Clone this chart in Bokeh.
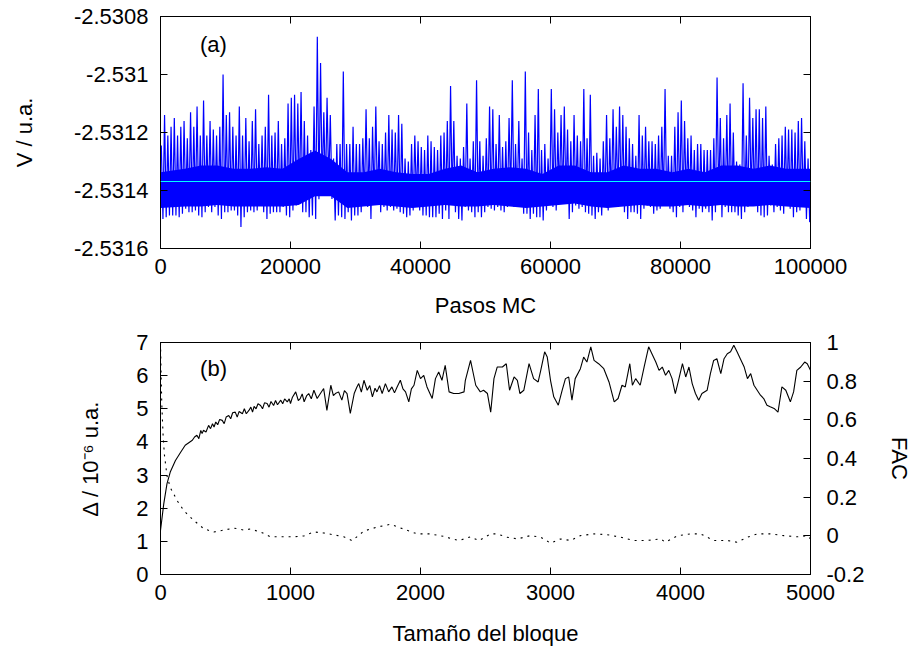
import numpy as np
from bokeh.plotting import figure
from bokeh.models import Range1d, LinearAxis, FixedTicker, Label, Span
from bokeh.layouts import column
from bokeh.embed import file_html
from bokeh.resources import INLINE

FONT = "Liberation Sans"
FS = "22px"

# ---------------- data: panel (a) ----------------
# Monte Carlo trace, read as per-bin peak (hi) and trough (lo) of V, bins of 500 MC steps
bin_width = 500
v_hi = [
    -2.531245, -2.531140, -2.531210, -2.531180, -2.531150, -2.531210, -2.531180, -2.531160, -2.531220, -2.531130,
    -2.531180, -2.531110, -2.531210, -2.531090, -2.531210, -2.531160, -2.531190, -2.531210, -2.531180, -2.531000,
    -2.531140, -2.531130, -2.531180, -2.531210, -2.531110, -2.531210, -2.531150, -2.531230, -2.531160, -2.531120,
    -2.531240, -2.531210, -2.531180, -2.531070, -2.531210, -2.531200, -2.531160, -2.531240, -2.531220, -2.531100,
    -2.531080, -2.531070, -2.531100, -2.531060, -2.531160, -2.531210, -2.531260, -2.531110, -2.530870, -2.530960,
    -2.531130, -2.531080, -2.531140, -2.531290, -2.531240, -2.531240, -2.530990, -2.531240, -2.531240, -2.531180,
    -2.531240, -2.531240, -2.531220, -2.531120, -2.531220, -2.531180, -2.531110, -2.531230, -2.531240, -2.531200,
    -2.531140, -2.531190, -2.531200, -2.531140, -2.531170, -2.531290, -2.531300, -2.531240, -2.531210, -2.531230,
    -2.531250, -2.531260, -2.531210, -2.531230, -2.531250, -2.531260, -2.531210, -2.531200, -2.531160, -2.531040,
    -2.531160, -2.531280, -2.531290, -2.531250, -2.531100, -2.531290, -2.531230, -2.531020, -2.531230, -2.531280,
    -2.531220, -2.531110, -2.531120, -2.531240, -2.531140, -2.531250, -2.531230, -2.531150, -2.531020, -2.531240,
    -2.531160, -2.531290, -2.530990, -2.531200, -2.531260, -2.531140, -2.531050, -2.531260, -2.531240, -2.531290,
    -2.531050, -2.531120, -2.531200, -2.531140, -2.531110, -2.531190, -2.531230, -2.531140, -2.531210, -2.531230,
    -2.531050, -2.531220, -2.531070, -2.531280, -2.531270, -2.531290, -2.531230, -2.531140, -2.531220, -2.531120,
    -2.531180, -2.531110, -2.531140, -2.531180, -2.531220, -2.531240, -2.531280, -2.531140, -2.531210, -2.531180,
    -2.531230, -2.531230, -2.531240, -2.531210, -2.531180, -2.531050, -2.531280, -2.531280, -2.531180, -2.531130,
    -2.531090, -2.531160, -2.531220, -2.531210, -2.531260, -2.531240, -2.531240, -2.531260, -2.531260, -2.531260,
    -2.531220, -2.531010, -2.531150, -2.531220, -2.531140, -2.531100, -2.531200, -2.531300, -2.531310, -2.531030,
    -2.531210, -2.531080, -2.531150, -2.531120, -2.531120, -2.531150, -2.531110, -2.531280, -2.531310, -2.531240,
    -2.531220, -2.531210, -2.531180, -2.531190, -2.531190, -2.531200, -2.531160, -2.531150, -2.531230, -2.531290,
]
v_lo = [
    -2.531498, -2.531492, -2.531486, -2.531486, -2.531486, -2.531492, -2.531480, -2.531463, -2.531475, -2.531475,
    -2.531469, -2.531486, -2.531492, -2.531475, -2.531457, -2.531475, -2.531457, -2.531486, -2.531498, -2.531475,
    -2.531475, -2.531469, -2.531469, -2.531486, -2.531526, -2.531492, -2.531475, -2.531469, -2.531475, -2.531469,
    -2.531452, -2.531475, -2.531498, -2.531480, -2.531475, -2.531475, -2.531475, -2.531457, -2.531486, -2.531492,
    -2.531469, -2.531452, -2.531440, -2.531475, -2.531475, -2.531492, -2.531486, -2.531498, -2.531430, -2.531400,
    -2.531410, -2.531383, -2.531429, -2.531503, -2.531486, -2.531492, -2.531498, -2.531475, -2.531503, -2.531486,
    -2.531486, -2.531475, -2.531434, -2.531457, -2.531498, -2.531440, -2.531440, -2.531475, -2.531457, -2.531469,
    -2.531457, -2.531469, -2.531463, -2.531475, -2.531480, -2.531492, -2.531486, -2.531469, -2.531429, -2.531469,
    -2.531486, -2.531486, -2.531492, -2.531492, -2.531492, -2.531480, -2.531498, -2.531469, -2.531498, -2.531434,
    -2.531475, -2.531498, -2.531503, -2.531457, -2.531469, -2.531475, -2.531492, -2.531475, -2.531492, -2.531475,
    -2.531457, -2.531463, -2.531469, -2.531457, -2.531469, -2.531475, -2.531457, -2.531429, -2.531457, -2.531457,
    -2.531446, -2.531480, -2.531480, -2.531498, -2.531480, -2.531492, -2.531492, -2.531503, -2.531469, -2.531440,
    -2.531457, -2.531469, -2.531417, -2.531440, -2.531429, -2.531498, -2.531475, -2.531452, -2.531463, -2.531457,
    -2.531475, -2.531480, -2.531486, -2.531498, -2.531475, -2.531486, -2.531457, -2.531469, -2.531440, -2.531452,
    -2.531429, -2.531452, -2.531475, -2.531498, -2.531475, -2.531475, -2.531480, -2.531498, -2.531463, -2.531452,
    -2.531457, -2.531480, -2.531469, -2.531463, -2.531446, -2.531452, -2.531463, -2.531475, -2.531492, -2.531457,
    -2.531475, -2.531434, -2.531457, -2.531469, -2.531492, -2.531463, -2.531475, -2.531463, -2.531475, -2.531503,
    -2.531475, -2.531440, -2.531492, -2.531457, -2.531475, -2.531475, -2.531475, -2.531486, -2.531498, -2.531475,
    -2.531457, -2.531429, -2.531452, -2.531475, -2.531486, -2.531492, -2.531486, -2.531452, -2.531475, -2.531457,
    -2.531469, -2.531480, -2.531452, -2.531463, -2.531492, -2.531475, -2.531469, -2.531457, -2.531498, -2.531509,
]
# edges of the dense (solid) core of the trace, read every 2500 MC steps
core_step = 2500
core_hi = [
    -2.531337, -2.531325, -2.531314, -2.531314, -2.531325, -2.531325, -2.531320, -2.531325, -2.531291, -2.531262,
    -2.531291, -2.531337, -2.531337, -2.531325, -2.531337, -2.531343, -2.531343, -2.531325, -2.531314, -2.531337,
    -2.531325, -2.531320, -2.531325, -2.531343, -2.531314, -2.531314, -2.531337, -2.531337, -2.531314, -2.531325,
    -2.531325, -2.531337, -2.531325, -2.531337, -2.531314, -2.531314, -2.531325, -2.531314, -2.531325, -2.531325,
]
core_lo = [
    -2.531460, -2.531455, -2.531455, -2.531450, -2.531455, -2.531455, -2.531455, -2.531455, -2.531450, -2.531420,
    -2.531420, -2.531460, -2.531455, -2.531450, -2.531455, -2.531460, -2.531455, -2.531450, -2.531455, -2.531455,
    -2.531450, -2.531455, -2.531460, -2.531455, -2.531450, -2.531445, -2.531455, -2.531460, -2.531455, -2.531450,
    -2.531455, -2.531455, -2.531450, -2.531455, -2.531450, -2.531455, -2.531455, -2.531450, -2.531455, -2.531460,
]
v_mean = -2.531369

mc_ticks = [0, 20000, 40000, 60000, 80000, 100000]
mc_tick_labels = ["0", "20000", "40000", "60000", "80000", "100000"]
v_ticks = [-2.5316, -2.5314, -2.5312, -2.531, -2.5308]
v_tick_labels = ["-2.5316", "-2.5314", "-2.5312", "-2.531", "-2.5308"]

# ---------------- data: panel (b) ----------------
block_size = [0, 25, 50, 75, 115, 155, 190, 245, 262, 280, 295, 310, 320, 330, 350, 370, 385, 400, 412, 425, 440,
              455, 475, 490, 505, 525, 540, 555, 575, 590, 605, 630, 645, 660, 680, 695, 708, 720, 735, 750, 770,
              785, 800, 820, 835, 850, 870, 885, 900, 925, 940, 955, 975, 990, 1000, 1015, 1040, 1060, 1075, 1090,
              1105, 1125, 1140, 1160, 1180, 1205, 1230, 1255, 1280, 1310, 1330, 1345, 1370, 1395, 1415, 1435, 1460,
              1490, 1510, 1525, 1545, 1565, 1590, 1610, 1630, 1650, 1665, 1685, 1705, 1730, 1755, 1780, 1800, 1820,
              1845, 1865, 1885, 1910, 1930, 1950, 1975, 2000, 2025, 2050, 2090, 2115, 2140, 2165, 2190, 2220, 2255,
              2295, 2335, 2345, 2385, 2425, 2460, 2485, 2515, 2540, 2565, 2590, 2630, 2660, 2685, 2720, 2745, 2765,
              2795, 2835, 2870, 2905, 2925, 2955, 2975, 3000, 3025, 3060, 3090, 3115, 3140, 3165, 3190, 3230, 3255,
              3280, 3310, 3335, 3370, 3410, 3450, 3490, 3520, 3550, 3575, 3610, 3630, 3655, 3690, 3720, 3755, 3780,
              3810, 3835, 3860, 3885, 3910, 3935, 3960, 3985, 4015, 4040, 4065, 4090, 4115, 4140, 4165, 4205, 4230,
              4255, 4280, 4310, 4335, 4360, 4385, 4410, 4435, 4460, 4490, 4515, 4540, 4565, 4590, 4615, 4640, 4665,
              4690, 4720, 4750, 4780, 4810, 4845, 4870, 4895, 4925, 4955, 4975, 5000]
delta = [1.33, 2.13, 2.74, 3.09, 3.44, 3.69, 3.90, 4.05, 4.15, 4.20, 4.10, 4.35, 4.25, 4.35, 4.30, 4.50, 4.40, 4.55,
         4.45, 4.60, 4.52, 4.68, 4.65, 4.55, 4.75, 4.80, 4.70, 4.88, 4.90, 4.75, 4.92, 4.85, 5.00, 4.85, 4.95, 5.05,
         4.90, 5.07, 5.00, 5.15, 5.10, 5.00, 5.18, 5.16, 5.05, 5.22, 5.10, 5.25, 5.12, 5.26, 5.15, 5.30, 5.21, 5.30,
         5.16, 5.35, 5.51, 5.25, 5.31, 5.45, 5.21, 5.40, 5.46, 5.30, 5.56, 5.31, 5.46, 5.61, 4.95, 5.71, 5.40, 5.46,
         5.51, 5.26, 5.55, 5.46, 4.86, 5.46, 5.65, 5.76, 5.50, 5.86, 5.56, 5.70, 5.36, 5.62, 5.51, 5.70, 5.46, 5.76,
         5.51, 5.66, 5.48, 5.66, 5.86, 5.60, 5.51, 5.21, 5.60, 5.71, 6.16, 5.91, 6.01, 5.66, 5.31, 5.91, 6.11, 5.86,
         6.31, 5.51, 5.46, 5.46, 5.51, 5.86, 6.46, 5.71, 5.51, 5.56, 5.46, 4.90, 5.91, 6.26, 6.26, 6.36, 5.56, 5.96,
         5.86, 5.46, 5.56, 6.36, 5.91, 5.81, 6.16, 6.72, 6.56, 5.86, 5.36, 5.11, 5.56, 5.91, 5.96, 5.26, 5.91, 6.21,
         6.56, 6.41, 6.87, 6.46, 6.36, 6.21, 5.81, 5.21, 5.31, 5.71, 5.66, 6.36, 5.71, 5.91, 5.71, 6.26, 6.87, 6.66,
         6.41, 6.16, 6.26, 6.01, 6.16, 5.91, 5.46, 5.86, 6.36, 5.96, 6.26, 5.76, 5.46, 5.26, 5.46, 5.56, 6.06, 6.46,
         6.51, 6.06, 6.51, 6.66, 6.72, 6.92, 6.72, 6.51, 6.26, 5.91, 6.06, 5.71, 5.56, 5.41, 5.31, 5.11, 5.06, 5.01,
         4.90, 5.66, 5.56, 5.21, 5.51, 6.16, 6.26, 6.41, 6.36, 6.16]
fac_size = [0, 5, 10, 20, 30, 50, 75, 130, 180, 255, 335, 410, 490, 565, 640, 690, 770, 845, 950, 1025,
            1105, 1180, 1255, 1335, 1410, 1475, 1565, 1665, 1770, 1870, 1975, 2075, 2180, 2295, 2385, 2450,
            2540, 2590, 2665, 2745, 2845, 2925, 3000, 3075, 3155, 3230, 3335, 3435, 3540, 3640, 3745, 3845,
            3885, 3975, 4075, 4155, 4255, 4360, 4435, 4515, 4590, 4690, 4795, 4900, 4975, 5000]
fac = [1.0, 0.82, 0.68, 0.52, 0.42, 0.31, 0.25, 0.18, 0.13, 0.08, 0.036, 0.02, 0.03, 0.04, 0.03, 0.035, 0.02,
       -0.005, -0.005, -0.005, 0.0, 0.02, 0.015, 0.005, -0.005, -0.025, 0.025, 0.045, 0.06, 0.035, 0.01, 0.01,
       -0.003, -0.025, -0.005, -0.025, 0.01, 0.01, -0.007, -0.016, 0.001, -0.007, -0.038, -0.016, -0.024, 0.001,
       0.01, 0.006, -0.007, -0.024, -0.024, -0.016, -0.033, 0.0, 0.01, 0.01, -0.024, -0.024, -0.033, -0.007,
       0.01, 0.01, 0.001, -0.005, 0.001, -0.016]

bs_ticks = [0, 1000, 2000, 3000, 4000, 5000]
delta_ticks = [0, 1, 2, 3, 4, 5, 6, 7]
fac_ticks = [-0.2, 0, 0.2, 0.4, 0.6, 0.8, 1]
fac_tick_labels = ["-0.2", "0", "0.2", "0.4", "0.6", "0.8", "1"]


def style_axis(ax, labels=True, standoff=12):
    ax.major_tick_in = 7
    ax.major_tick_out = 0
    ax.minor_tick_in = 0
    ax.minor_tick_out = 0
    ax.axis_line_color = "black"
    ax.major_tick_line_color = "black"
    ax.major_label_text_font = FONT
    ax.major_label_text_font_size = FS
    ax.major_label_text_color = "black"
    ax.axis_label_text_font = FONT
    ax.axis_label_text_font_size = FS
    ax.axis_label_text_font_style = "normal"
    ax.axis_label_text_color = "black"
    ax.major_label_standoff = standoff
    if not labels:
        # mirror axis: ticks only, no labels drawn
        ax.major_label_text_color = None
        ax.major_label_text_font_size = "1px"
        ax.major_label_standoff = 0


def base_fig(xr, yr, top, bottom):
    p = figure(frame_width=650, frame_height=232, x_range=xr, y_range=yr, output_backend="svg",
               toolbar_location=None, min_border_left=160, min_border_right=108,
               min_border_top=top, min_border_bottom=bottom)
    p.grid.visible = False
    p.outline_line_color = "black"
    p.outline_line_width = 1
    p.outline_line_alpha = 1
    p.background_fill_color = "white"
    p.border_fill_color = "white"
    return p


# ---------------- panel (a) ----------------
p1 = base_fig(Range1d(0, 100000), Range1d(-2.5316, -2.5308), 16, 82)
core_x = np.arange(len(core_hi)) * core_step + core_step / 2
core_x[0] = 0
core_x[-1] = 100000
p1.varea(x=core_x, y1=core_lo, y2=core_hi, fill_color="#0000ff")
n = len(v_hi)
starts = np.arange(n) * bin_width
xs = np.empty(2 * n)
ys = np.empty(2 * n)
xs[0::2] = starts + bin_width * 0.25
xs[1::2] = starts + bin_width * 0.75
ys[0::2] = v_hi
ys[1::2] = v_lo
p1.line(xs, ys, line_color="#0000ff", line_width=1.2)
p1.add_layout(Span(location=v_mean, dimension="width", line_color="#00ffff", line_width=1.2))

style_axis(p1.xaxis[0], standoff=10)
p1.xaxis[0].ticker = FixedTicker(ticks=mc_ticks)
p1.xaxis[0].major_label_overrides = dict(zip(mc_ticks, mc_tick_labels))
p1.xaxis[0].axis_label = "Pasos MC"
p1.xaxis[0].axis_label_standoff = 16
style_axis(p1.yaxis[0], standoff=12)
p1.yaxis[0].ticker = FixedTicker(ticks=v_ticks)
p1.yaxis[0].major_label_overrides = dict(zip(v_ticks, v_tick_labels))
p1.yaxis[0].axis_label = "V / u.a."
p1.yaxis[0].axis_label_standoff = 34

ax_top1 = LinearAxis(ticker=FixedTicker(ticks=mc_ticks))
style_axis(ax_top1, labels=False)
p1.add_layout(ax_top1, "above")
ax_right1 = LinearAxis(ticker=FixedTicker(ticks=v_ticks))
style_axis(ax_right1, labels=False)
p1.add_layout(ax_right1, "right")

p1.add_layout(Label(x=8150, y=-2.530897, text="(a)", text_font=FONT, text_font_size=FS,
                    text_align="center", text_baseline="middle", text_color="black"))

# ---------------- panel (b) ----------------
p2 = base_fig(Range1d(0, 5000), Range1d(0, 7), 12, 78)
p2.extra_y_ranges = {"fac": Range1d(-0.2, 1)}
p2.line(block_size, delta, line_color="black", line_width=1.1)
p2.line(fac_size, fac, y_range_name="fac", line_color="black", line_width=1.1, line_dash="2 5")

style_axis(p2.xaxis[0], standoff=10)
p2.xaxis[0].ticker = FixedTicker(ticks=bs_ticks)
p2.xaxis[0].axis_label = "Tamaño del bloque"
p2.xaxis[0].axis_label_standoff = 18
style_axis(p2.yaxis[0], standoff=12)
p2.yaxis[0].ticker = FixedTicker(ticks=delta_ticks)
p2.yaxis[0].axis_label = "Δ / 10⁻⁶ u.a."
p2.yaxis[0].axis_label_standoff = 30

ax_top2 = LinearAxis(ticker=FixedTicker(ticks=bs_ticks))
style_axis(ax_top2, labels=False)
p2.add_layout(ax_top2, "above")
ax_right2 = LinearAxis(y_range_name="fac", ticker=FixedTicker(ticks=fac_ticks))
style_axis(ax_right2, standoff=16)
ax_right2.major_label_overrides = dict(zip(fac_ticks, fac_tick_labels))
ax_right2.axis_label = "FAC"
ax_right2.axis_label_standoff = 20
p2.add_layout(ax_right2, "right")

p2.add_layout(Label(x=408, y=6.22, text="(b)", text_font=FONT, text_font_size=FS,
                    text_align="center", text_baseline="middle", text_color="black"))

layout = column(p1, p2, spacing=0)
open("out.html", "w").write(file_html(layout, INLINE))
